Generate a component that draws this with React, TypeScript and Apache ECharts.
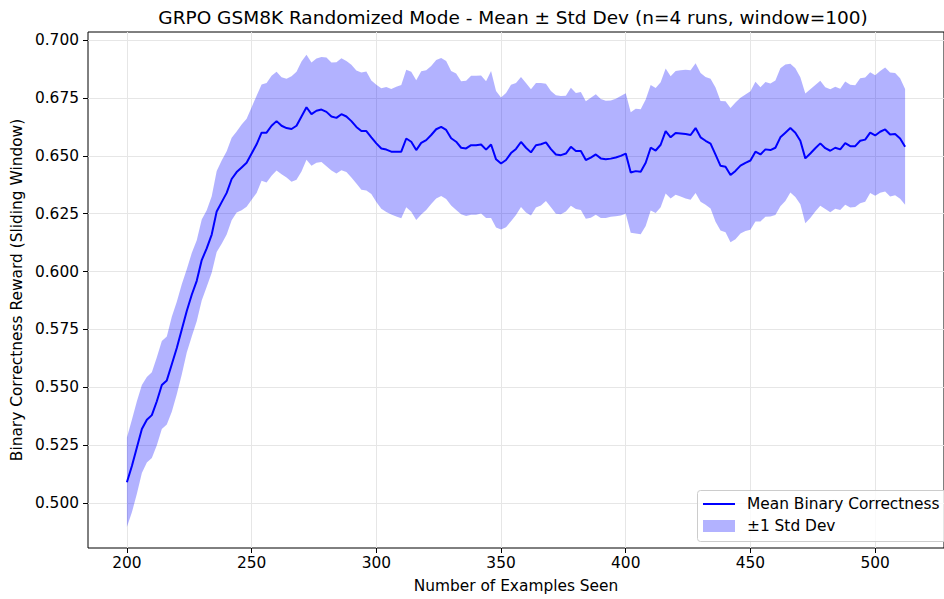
import { useEffect, useRef } from 'react';
import * as echarts from 'echarts';

const X_START = 200;
const X_STEP = 2;

const meanReward = [
  0.509, 0.516, 0.524, 0.532, 0.536, 0.538, 0.544, 0.551, 0.553, 0.560,
  0.567, 0.575, 0.583, 0.590, 0.596, 0.605, 0.610, 0.616, 0.626, 0.630,
  0.634, 0.640, 0.643, 0.645, 0.647, 0.651, 0.655, 0.660, 0.660, 0.663,
  0.665, 0.663, 0.662, 0.6616, 0.663, 0.667, 0.671, 0.668, 0.6695, 0.670,
  0.669, 0.667, 0.6664, 0.668, 0.667, 0.665, 0.6625, 0.6607, 0.6607, 0.658,
  0.6554, 0.6532, 0.6527, 0.6518, 0.6518, 0.6518, 0.6575, 0.6561, 0.6525, 0.6556,
  0.6568, 0.659, 0.6615, 0.6625, 0.6612, 0.6576, 0.6561, 0.6535, 0.6532, 0.6546,
  0.6546, 0.6549, 0.6527, 0.6549, 0.6485, 0.6467, 0.6482, 0.6512, 0.653, 0.656,
  0.6535, 0.6515, 0.6546, 0.655, 0.6558, 0.6529, 0.6506, 0.6503, 0.651, 0.6539,
  0.6521, 0.6521, 0.6482, 0.6492, 0.6506, 0.6489, 0.6485, 0.6488, 0.6493, 0.650,
  0.651, 0.6428, 0.6434, 0.6431, 0.647, 0.6535, 0.6523, 0.6548, 0.6607, 0.658,
  0.6599, 0.6597, 0.6594, 0.659, 0.662, 0.658, 0.6565, 0.6553, 0.6505, 0.6457,
  0.6453, 0.6417, 0.6435, 0.6458, 0.647, 0.648, 0.6518, 0.6506, 0.6528, 0.6525,
  0.6535, 0.658, 0.660, 0.662, 0.660, 0.6565, 0.6489, 0.651, 0.6533, 0.6554,
  0.6533, 0.6522, 0.6535, 0.6528, 0.6555, 0.6542, 0.6542, 0.6565, 0.657, 0.660,
  0.6588, 0.6604, 0.6614, 0.6592, 0.6594, 0.6575, 0.6539,
];

const stdReward = [
  0.0193, 0.020, 0.020, 0.019, 0.0185, 0.0185, 0.019, 0.019, 0.019, 0.0205,
  0.020, 0.0195, 0.018, 0.018, 0.0175, 0.0175, 0.0165, 0.0165, 0.0175, 0.018,
  0.018, 0.0178, 0.0175, 0.0185, 0.019, 0.020, 0.021, 0.0208, 0.0215, 0.0216,
  0.0213, 0.021, 0.0213, 0.0228, 0.0233, 0.0238, 0.0227, 0.0223, 0.0225, 0.0227,
  0.0235, 0.0233, 0.024, 0.0242, 0.024, 0.0243, 0.0244, 0.0253, 0.0257, 0.0245,
  0.0253, 0.026, 0.027, 0.0271, 0.028, 0.0288, 0.0297, 0.0302, 0.0302, 0.0309,
  0.0302, 0.0298, 0.0299, 0.0298, 0.0298, 0.029, 0.0295, 0.0287, 0.0292, 0.030,
  0.030, 0.0298, 0.0295, 0.0317, 0.0295, 0.0285, 0.029, 0.0295, 0.0285, 0.0281,
  0.028, 0.0273, 0.0269, 0.0265, 0.0253, 0.0251, 0.0256, 0.0255, 0.025, 0.0255,
  0.0251, 0.0255, 0.0254, 0.0259, 0.026, 0.0257, 0.0253, 0.0251, 0.0254, 0.0258,
  0.026, 0.026, 0.0269, 0.027, 0.0273, 0.0271, 0.027, 0.027, 0.027, 0.0264,
  0.0267, 0.0273, 0.0278, 0.028, 0.028, 0.0278, 0.0276, 0.028, 0.029, 0.028,
  0.0283, 0.029, 0.0295, 0.0293, 0.0295, 0.0299, 0.0302, 0.029, 0.0291, 0.0287,
  0.029, 0.0298, 0.0295, 0.0278, 0.0278, 0.0274, 0.028, 0.0278, 0.0273, 0.027,
  0.0263, 0.0266, 0.0264, 0.0262, 0.0266, 0.0265, 0.0263, 0.027, 0.0268, 0.0261,
  0.026, 0.0263, 0.0268, 0.0268, 0.0264, 0.026, 0.025,
];

const xTicks = [200, 250, 300, 350, 400, 450, 500];
const yTicks = [0.5, 0.525, 0.55, 0.575, 0.6, 0.625, 0.65, 0.675, 0.7];

const TITLE = 'GRPO GSM8K Randomized Mode - Mean \u00b1 Std Dev (n=4 runs, window=100)';
const X_NAME = 'Number of Examples Seen';
const Y_NAME = 'Binary Correctness Reward (Sliding Window)';
const LEGEND_MEAN = 'Mean Binary Correctness';
const LEGEND_STD = '\u00b11 Std Dev';

export default function App() {
  const ref = useRef<HTMLDivElement>(null);

  useEffect(() => {
    document.body.style.margin = '0';
    const chart = echarts.init(ref.current!, null, { renderer: 'svg' });
    const xs = meanReward.map((_, i) => X_START + i * X_STEP);
    const meanData = xs.map((x, i) => [x, meanReward[i]]);
    const upperData = xs.map((x, i) => [x, meanReward[i] + stdReward[i]]);
    const lowerData = xs.map((x, i) => [x, meanReward[i] - stdReward[i]]);
    const font = 'DejaVu Sans';
    const fs = 15.4;
    const gridColor = '#e6e6e6';

    chart.setOption({
      animation: false,
      textStyle: { fontFamily: font },
      title: {
        text: TITLE,
        left: 508,
        top: 3,
        textAlign: 'center',
        textStyle: { fontSize: 18.5, fontWeight: 'normal', color: '#000', fontFamily: font },
      },
      grid: {
        left: 88,
        top: 32,
        width: 866,
        height: 516,
        show: true,
        borderColor: '#000',
        borderWidth: 1,
        backgroundColor: 'transparent',
      },
      xAxis: {
        type: 'value',
        min: 184.4,
        max: 527.6,
        name: X_NAME,
        nameLocation: 'middle',
        nameGap: 30,
        nameTextStyle: { fontSize: fs, color: '#000', fontFamily: font },
        axisLine: { show: false },
        axisTick: { show: true, length: 5, customValues: xTicks, lineStyle: { color: '#000', width: 1 } },
        axisLabel: { customValues: xTicks, margin: 7, fontSize: fs, color: '#000', fontFamily: font },
        splitLine: { show: true, customValues: xTicks, lineStyle: { color: gridColor, width: 1 } },
      },
      yAxis: {
        type: 'value',
        min: 0.4806,
        max: 0.7035,
        name: Y_NAME,
        nameLocation: 'middle',
        nameRotate: 90,
        nameGap: 62,
        nameTextStyle: { fontSize: fs, color: '#000', fontFamily: font },
        axisLine: { show: false },
        axisTick: { show: true, length: 5, customValues: yTicks, lineStyle: { color: '#000', width: 1 } },
        axisLabel: {
          customValues: yTicks,
          margin: 9,
          fontSize: fs,
          color: '#000',
          fontFamily: font,
          formatter: (v: number) => v.toFixed(3),
        },
        splitLine: { show: true, customValues: yTicks, lineStyle: { color: gridColor, width: 1 } },
      },
      series: [
        {
          type: 'custom',
          name: LEGEND_STD,
          data: [[X_START, meanReward[0]]],
          silent: true,
          z: 1,
          renderItem: (_params: any, api: any) => {
            const top = upperData.map((p) => api.coord(p));
            const bottom = lowerData.map((p) => api.coord(p)).reverse();
            return {
              type: 'polygon',
              shape: { points: top.concat(bottom) },
              style: { fill: 'rgba(0,0,255,0.3)', stroke: 'none' },
            };
          },
        },
        {
          type: 'line',
          name: LEGEND_MEAN,
          data: meanData,
          symbol: 'none',
          lineStyle: { color: '#0000ff', width: 2 },
          z: 3,
        },
      ],
      graphic: [
        {
          type: 'rect',
          shape: { x: 697.5, y: 490.5, width: 300, height: 51, r: 3 },
          style: { fill: 'rgba(255,255,255,0.8)', stroke: '#cccccc', lineWidth: 1 },
          z: 10,
        },
        {
          type: 'line',
          shape: { x1: 703, y1: 504, x2: 735, y2: 504 },
          style: { stroke: '#0000ff', lineWidth: 2 },
          z: 11,
        },
        {
          type: 'text',
          x: 747,
          y: 504,
          style: { text: LEGEND_MEAN, fontSize: fs, fontFamily: font, fill: '#000', verticalAlign: 'middle', align: 'left' },
          z: 11,
        },
        {
          type: 'rect',
          shape: { x: 703, y: 520, width: 32, height: 12 },
          style: { fill: 'rgba(0,0,255,0.3)' },
          z: 11,
        },
        {
          type: 'text',
          x: 747,
          y: 526,
          style: { text: LEGEND_STD, fontSize: fs, fontFamily: font, fill: '#000', verticalAlign: 'middle', align: 'left' },
          z: 11,
        },
      ],
    });

    return () => chart.dispose();
  }, []);

  return <div ref={ref} style={{ width: 944, height: 599, overflow: 'hidden' }} />;
}
